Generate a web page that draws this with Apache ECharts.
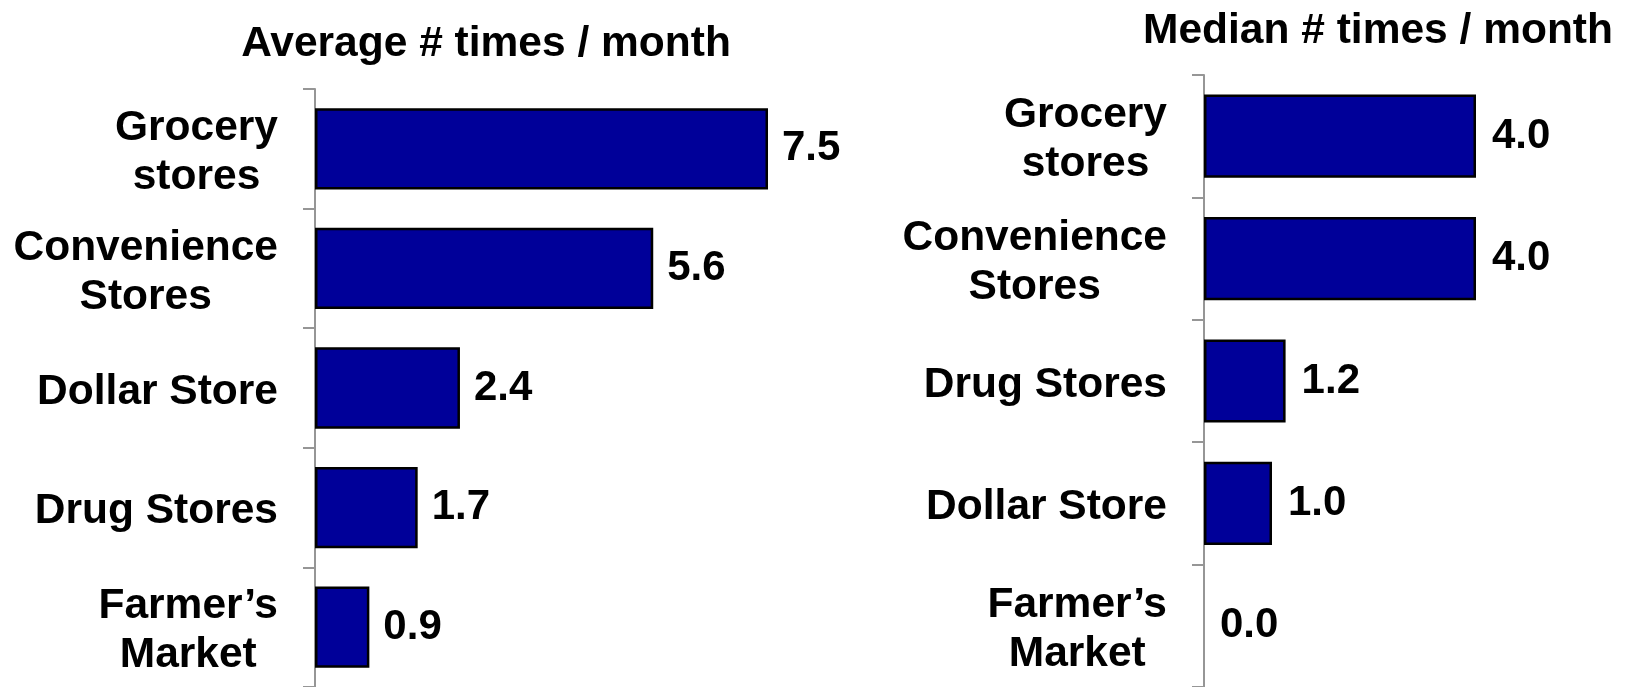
<!DOCTYPE html>
<html>
<head>
<meta charset="utf-8">
<script src="https://cdn.jsdelivr.net/npm/echarts@6/dist/echarts.min.js"></script>
<style>
  html, body { margin: 0; padding: 0; background: #fff; }
  #chart { width: 1625px; height: 687px; }
</style>
</head>
<body>
<div id="chart"></div>
<script>
// Store visit frequency per month, by store type
const avgTitle = 'Average # times / month';
const avgCategories = ['Grocery\nstores', 'Convenience\nStores', 'Dollar Store', 'Drug Stores', 'Farmer\u2019s\nMarket'];
const avgValues = [7.5, 5.6, 2.4, 1.7, 0.9];

const medTitle = 'Median # times / month';
const medCategories = ['Grocery\nstores', 'Convenience\nStores', 'Drug Stores', 'Dollar Store', 'Farmer\u2019s\nMarket'];
const medValues = [4.0, 4.0, 1.2, 1.0, 0.0];

const FONT = '"Liberation Sans", Arial, Helvetica, sans-serif';
const BAR_FILL = '#000099';
const AXIS_GREY = '#969696';

function barData(values) {
  // a zero-length bar gets no outline so only its label shows
  return values.map(v => ({
    value: v,
    itemStyle: v === 0 ? { borderWidth: 0 } : undefined
  }));
}

function categoryAxis(gridIndex, categories) {
  return {
    type: 'category',
    gridIndex: gridIndex,
    data: categories,
    inverse: true,
    axisLine: { show: true, lineStyle: { color: AXIS_GREY, width: 2 } },
    axisTick: { show: true, length: 12, lineStyle: { color: AXIS_GREY, width: 2 } },
    axisLabel: {
      margin: 37,
      align: 'right',
      padding: [8, 0, 0, 0],
      // each line of a two-line name is centred under the other
      formatter: name => name.split('\n').map(line => '{c|' + line + '}').join('\n'),
      rich: {
        c: {
          align: 'center',
          color: '#000',
          fontFamily: FONT,
          fontWeight: 'bold',
          fontSize: 42.5,
          lineHeight: 49
        }
      }
    }
  };
}

function valueAxis(gridIndex, max) {
  return {
    type: 'value',
    gridIndex: gridIndex,
    min: 0,
    max: max,
    show: false,
    splitLine: { show: false }
  };
}

function barSeries(index, values, distance) {
  return {
    type: 'bar',
    xAxisIndex: index,
    yAxisIndex: index,
    data: barData(values),
    barCategoryGap: '32%',
    itemStyle: { color: BAR_FILL, borderColor: '#000', borderWidth: 2.5 },
    label: {
      show: true,
      position: 'right',
      distance: distance,
      color: '#000',
      fontFamily: FONT,
      fontWeight: 'bold',
      fontSize: 42,
      formatter: p => p.value.toFixed(1)
    },
    animation: false
  };
}

const chart = echarts.init(document.getElementById('chart'), null, { renderer: 'canvas' });
chart.setOption({
  backgroundColor: '#fff',
  animation: false,
  title: [
    {
      text: avgTitle,
      left: 481,
      top: 18,
      textAlign: 'center',
      textStyle: { fontFamily: FONT, fontWeight: 'bold', fontSize: 42.5, color: '#000' }
    },
    {
      text: medTitle,
      left: 1373,
      top: 5,
      textAlign: 'center',
      textStyle: { fontFamily: FONT, fontWeight: 'bold', fontSize: 42.5, color: '#000' }
    }
  ],
  grid: [
    { left: 315, top: 89, width: 604, height: 605, containLabel: false },
    { left: 1204, top: 75, width: 340, height: 617, containLabel: false }
  ],
  xAxis: [valueAxis(0, 10), valueAxis(1, 5)],
  yAxis: [categoryAxis(0, avgCategories), categoryAxis(1, medCategories)],
  series: [barSeries(0, avgValues, 14), barSeries(1, medValues, 16)]
});
</script>
</body>
</html>
